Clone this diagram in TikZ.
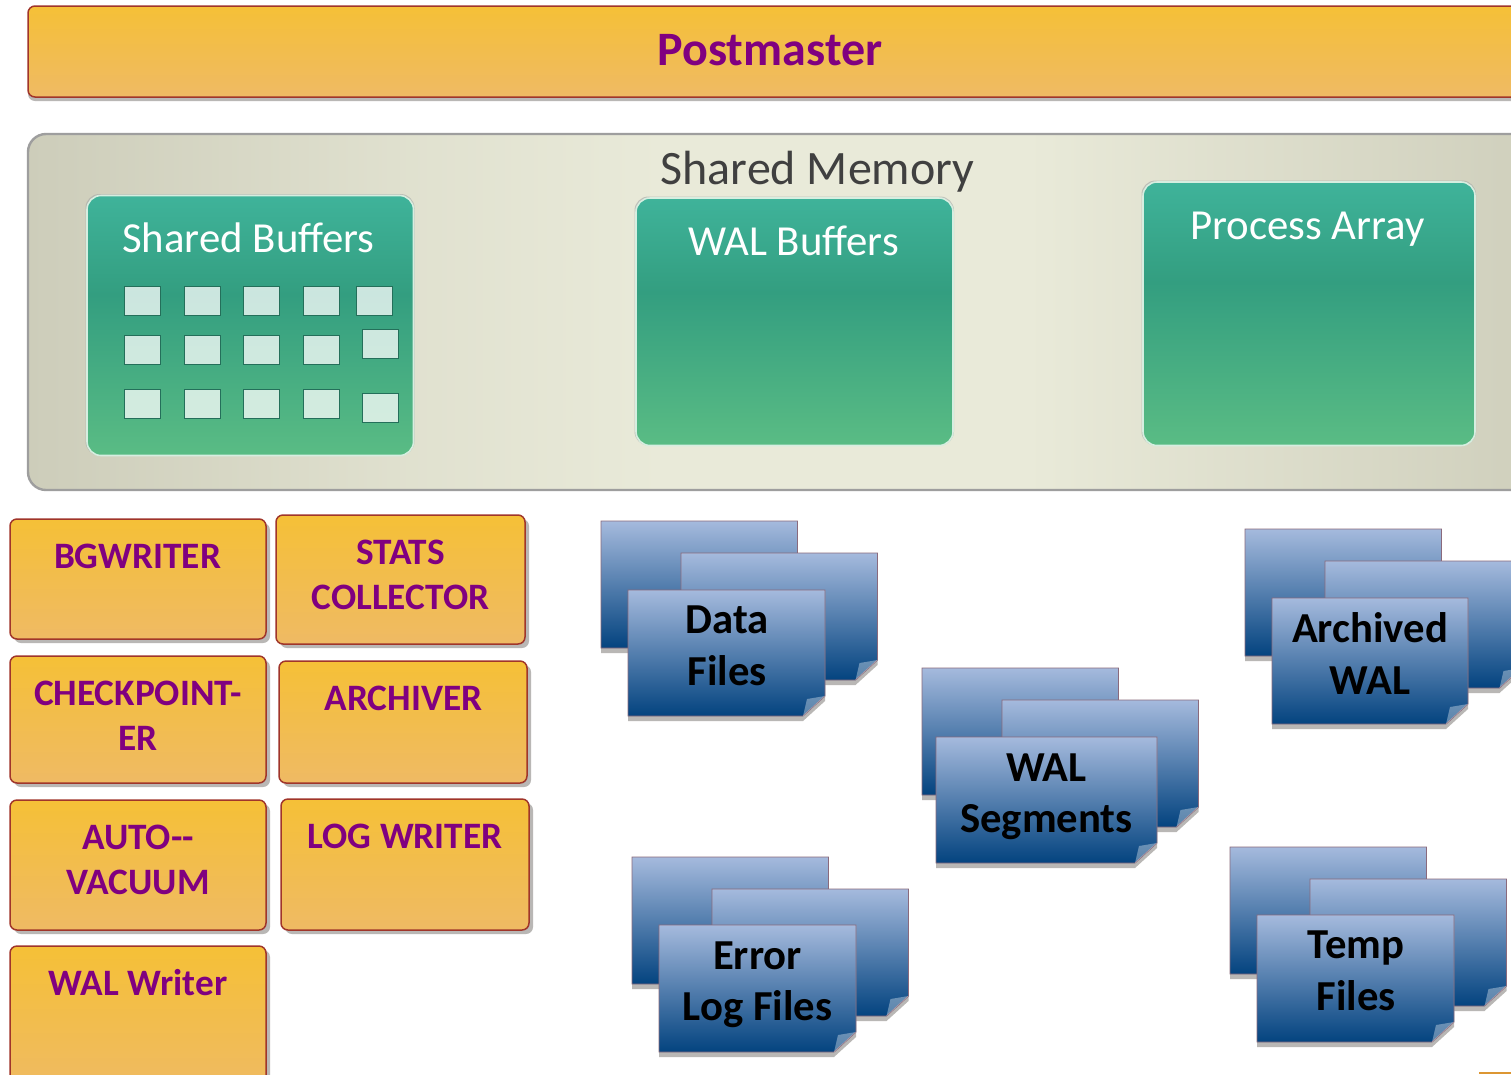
\documentclass[tikz,border=0pt]{standalone}
\usepackage{fontspec}
\setmainfont{Carlito}
\definecolor{orangetop}{HTML}{F5C037}
\definecolor{orangebot}{HTML}{EFBA64}
\definecolor{orangeedge}{HTML}{A0352A}
\definecolor{purpletext}{HTML}{800080}
\definecolor{pagetop}{HTML}{A5BADD}
\definecolor{pagebot}{HTML}{03437F}
\definecolor{pageedge}{HTML}{8A6A7C}
\definecolor{shadowgray}{HTML}{B9B7B5}
\definecolor{panelA}{HTML}{CDCDBA}
\definecolor{panelB}{HTML}{E9EAD9}
\definecolor{panelC}{HTML}{CFCFBC}
\definecolor{green1}{HTML}{5ABC84}
\definecolor{green2b}{HTML}{339E80}
\definecolor{green3}{HTML}{3FB39A}
\pgfdeclareverticalshading{greenfill}{100bp}{
  color(0bp)=(green1); color(25bp)=(green1); color(56bp)=(green2b); color(75bp)=(green3); color(100bp)=(green3)}
\pgfdeclarehorizontalshading{panelfill}{100bp}{
  color(0bp)=(panelA); color(25bp)=(panelA); color(38bp)=(panelB!70!panelA); color(46bp)=(panelB); color(58bp)=(panelB); color(75bp)=(panelC); color(100bp)=(panelC)}
\tikzset{
  x=1pt,y=-1pt,
  orangebox/.style={draw=orangeedge,line width=1.5pt,rounded corners=7pt,top color=orangetop,bottom color=orangebot},
  orangeshadow/.style={fill=shadowgray,rounded corners=7pt},
  greenbox/.style={draw=white!75!green1,line width=1.6pt,rounded corners=14pt,shading=greenfill},
  greenrim/.style={fill=black!35,fill opacity=.6,rounded corners=14pt},
  cell/.style={draw=green2b!70!black,line width=1pt,fill=white,fill opacity=.75},
  proclabel/.style={font=\fontsize{37.3}{45}\selectfont\bfseries,text=purpletext,align=center,inner sep=0pt},
  whitelabel/.style={font=\fontsize{42.8}{45}\selectfont,text=white,inner sep=0pt},
  pagelabel/.style={font=\fontsize{42.7}{51.5}\selectfont\bfseries,text=black,align=center,inner sep=0pt},
  pageface/.style={draw=pageedge,line width=.9pt,top color=pagetop,bottom color=pagebot},
  pageshadow/.style={fill=shadowgray},
}
% #1 x, #2 y, #3 w, #4 h
\newcommand{\sheet}[4]{%
  \pgfmathsetmacro{\sL}{#1}\pgfmathsetmacro{\sT}{#2}%
  \pgfmathsetmacro{\sR}{#1+#3}\pgfmathsetmacro{\sB}{#2+#4}%
  \pgfmathsetmacro{\sFx}{\sR-22}\pgfmathsetmacro{\sFy}{\sB-20}%
  \pgfmathsetmacro{\sSb}{\sB+5}\pgfmathsetmacro{\sSf}{\sFy+5}%
  \pgfmathsetmacro{\sCx}{\sFx+4}\pgfmathsetmacro{\sCy}{\sFy+3}%
  \fill[pageshadow] (\sL,\sT) -- (\sR,\sT) -- (\sR,\sSf) -- (\sFx,\sSb) -- (\sL,\sSb) -- cycle;
  \path[pageface] (\sL,\sT) -- (\sR,\sT) -- (\sR,\sFy) -- (\sFx,\sB) -- (\sL,\sB) -- cycle;
  \fill[white,opacity=.35] (\sFx,\sB) -- (\sCx,\sCy) -- (\sR,\sFy) -- cycle;
}
\newcommand{\procbox}[4]{%
  \fill[orangeshadow] (#1+4,#2+4) rectangle (#3+4,#4+4);
  \path[orangebox] (#1,#2) rectangle (#3,#4);
}
\newcommand{\cellbox}[2]{%
  \path[cell] (#1,#2) rectangle (#1+36,#2+28.5);
}
\newcommand{\stackpages}[2]{%
  \sheet{#1}{#2}{196.5}{127}
  \sheet{#1+80}{#2+32}{196.5}{127}
}
\newcommand{\greenpanel}[4]{%
  \fill[greenrim] (#1-1.5,#2-1.5) rectangle (#3+1,#4);
  \path[greenbox] (#1,#2) rectangle (#3,#4);
}
\begin{document}
\begin{tikzpicture}
\useasboundingbox (0,0) rectangle (1511,1074);
\clip (0,0) rectangle (1511,1074);
\fill[white] (0,0) rectangle (1511,1074);
% Postmaster
\fill[shadowgray,rounded corners=7pt] (28,10) rectangle (1540,101);
\path[orangebox] (28,6) rectangle (1540,97);
\node[font=\fontsize{48}{50}\selectfont\bfseries,text=purpletext,inner sep=0pt] (postmaster) at (770,50) {Postmaster};
% Shared memory panel
\path[draw=black!38,line width=2.4pt,rounded corners=18pt,shading=panelfill] (28,134) rectangle (1540,490);
\node[font=\fontsize{48}{50}\selectfont,text=black!75,inner sep=0pt] (sharedmem) at (817.5,171.5) {Shared Memory};
% Green boxes
\greenpanel{87}{195.5}{413.5}{455.5}
\node[whitelabel] (sharedbuf) at (248.5,238) {Shared Buffers};
\greenpanel{636}{198}{953}{445.5}
\node[whitelabel] (walbuf) at (793.5,241) {WAL Buffers};
\greenpanel{1143}{182}{1475}{445.5}
\node[whitelabel] (procarr) at (1307.5,229.5) {Process Array};
% Cells
\foreach \cx in {124,184,243.5,303}{
  \cellbox{\cx}{286.7}
  \cellbox{\cx}{335.7}
  \cellbox{\cx}{389.7}
}
\cellbox{356.5}{286.7}
\cellbox{362.2}{329.7}
\cellbox{362.2}{393.7}
% Process boxes
\procbox{10}{519}{266}{639}
\node[proclabel] (bgwriter) at (137.5,556) {BGWRITER};
\procbox{276}{515}{525}{644}
\node[proclabel] (stats) at (400.5,574.5) {STATS\\COLLECTOR};
\procbox{10}{656}{266}{783}
\node[proclabel] (checkpoint) at (138,715.5) {CHECKPOINT-\\ER};
\procbox{279}{661}{527}{783}
\node[proclabel] (archiver) at (403.5,698) {ARCHIVER};
\procbox{10}{800}{266}{930}
\node[proclabel] (autovacuum) at (138,859.5) {AUTO-{}-\\VACUUM};
\procbox{281}{799}{529}{930}
\node[proclabel] (logwriter) at (405,836) {LOG WRITER};
\procbox{10}{946}{266}{1095}
\node[proclabel] (walwriter) at (138,983) {WAL Writer};
% Data files
\stackpages{601}{521}
\sheet{628}{590}{197}{126}
\node[pagelabel] (datafiles) at (727,646) {Data\\Files};
% Archived WAL
\stackpages{1245}{529}
\sheet{1272}{598}{196}{126}
\node[pagelabel] (archwal) at (1370,653.5) {Archived\\WAL};
% WAL segments
\stackpages{922}{668}
\sheet{936}{737}{221}{126}
\node[pagelabel] (walseg) at (1046.5,797) {WAL\\Segments};
% Error log files
\stackpages{632}{857}
\sheet{659}{925}{197}{127}
\node[pagelabel] (errlog) at (757.5,985) {Error\\Log Files};
% Temp files
\stackpages{1230}{847}
\sheet{1257}{915}{197}{127}
\node[pagelabel] (temp) at (1356,971) {Temp\\Files};
% fragment at the lower right edge
\fill[orangetop!70!orangeedge] (1479,1072) rectangle (1511,1074);
\end{tikzpicture}
\end{document}
